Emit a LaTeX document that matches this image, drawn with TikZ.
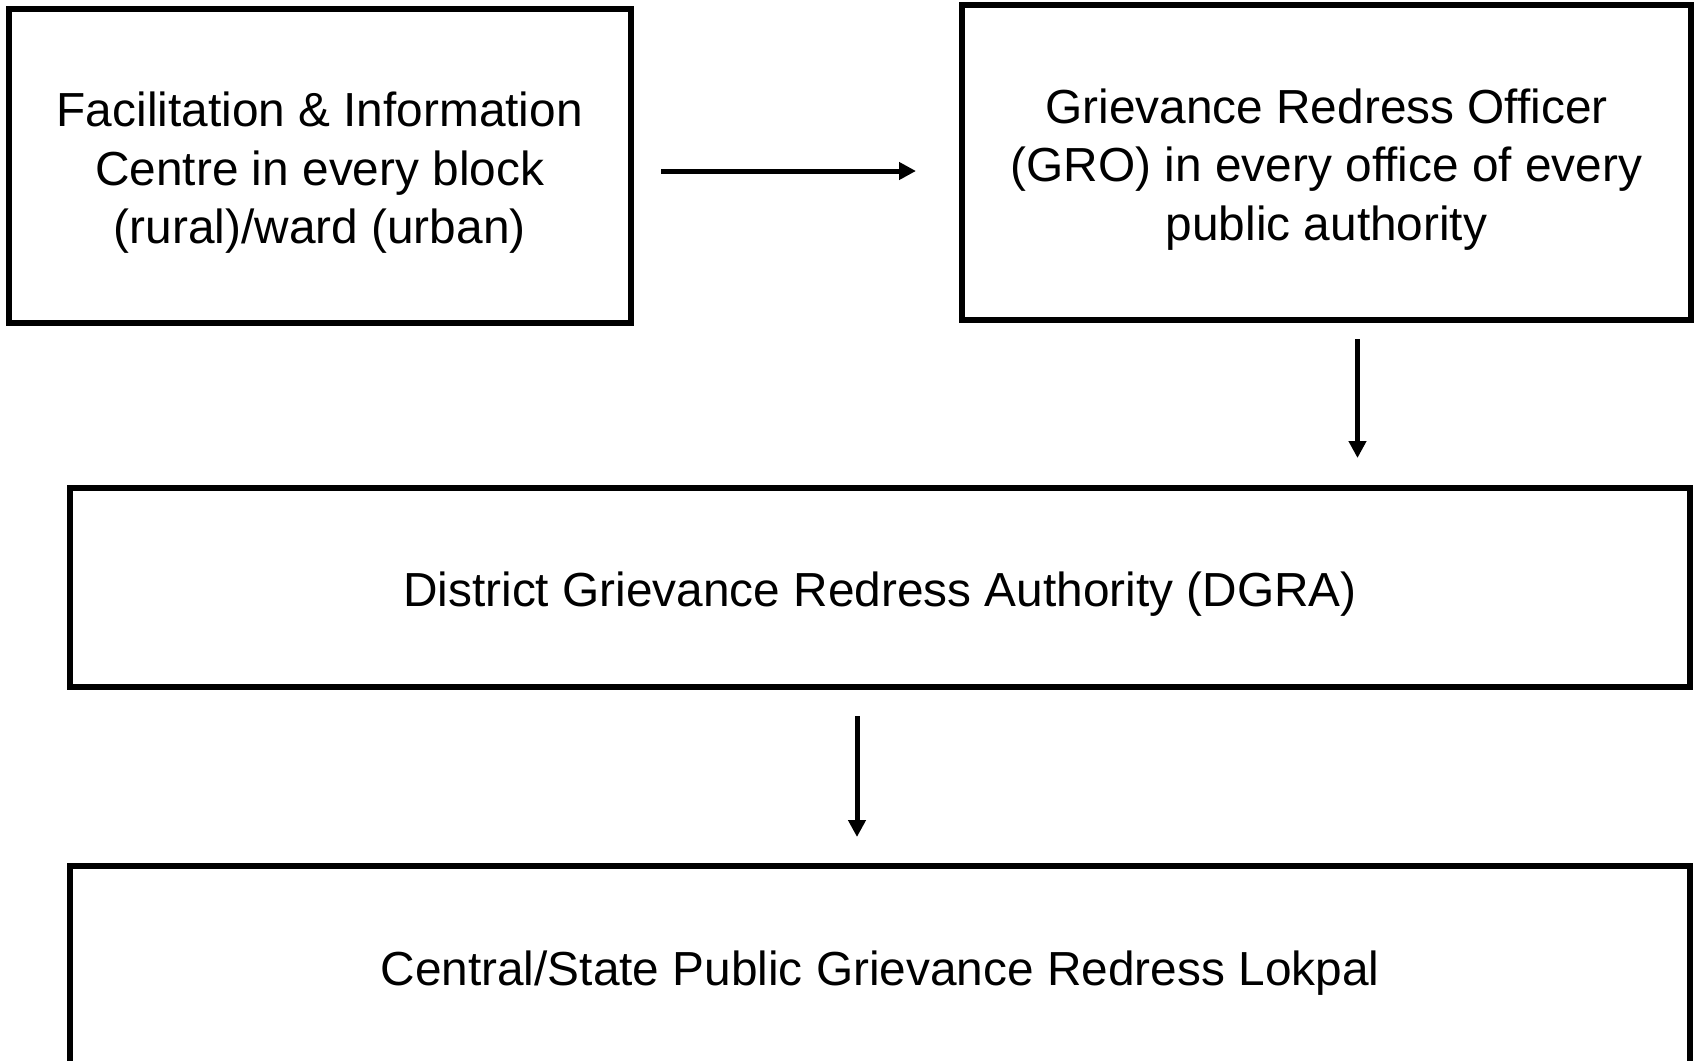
\documentclass[tikz,border=0pt]{standalone}
\usepackage{fontspec}
\setmainfont{Liberation Sans}
\usetikzlibrary{arrows.meta}
\newcommand{\boxtext}[1]{\raisebox{-9.9pt}[0pt][0pt]{\begin{tabular}{@{}c@{}}#1\end{tabular}}}
\begin{document}
\begin{tikzpicture}[x=0.5pt,y=-0.5pt,
  box/.style={draw=black,line width=3pt,fill=white,outer sep=0pt,inner sep=0pt,
    font=\fontsize{23.9}{29.2}\selectfont},
  arr/.style={line width=2.5pt,-{Triangle[length=8.5pt,width=8.5pt]}}]
\useasboundingbox (0,0) rectangle (1694,1061);
\node[box,minimum width=311.2pt,minimum height=157pt] (fic) at (319.8,166)
  {\boxtext{Facilitation \& Information\\Centre in every block\\(rural)/ward (urban)}};
\node[box,minimum width=364.5pt,minimum height=157.3pt] (gro) at (1326.5,162.7)
  {\boxtext{Grievance Redress Officer\\(GRO) in every office of every\\public authority}};
\node[box,minimum width=810pt,minimum height=99.5pt] (dgra) at (880,587.5)
  {\boxtext{District Grievance Redress Authority (DGRA)}};
\node[box,minimum width=810pt,minimum height=100pt] (lok) at (880,966)
  {\boxtext{Central/State Public Grievance Redress Lokpal}};
\draw[arr,shorten <=15pt,shorten >=23pt] ([yshift=-2.5pt]fic.east) -- ([yshift=-2.5pt]fic.east -| gro.west);
\draw[arr,shorten <=9.5pt,shorten >=15pt] ([xshift=15.5pt]gro.south) -- ([xshift=15.5pt]gro.south |- dgra.north);
\draw[arr,shorten <=14.5pt,shorten >=14.5pt] ([xshift=-11.5pt]dgra.south) -- ([xshift=-11.5pt]dgra.south |- lok.north);
\end{tikzpicture}
\end{document}
